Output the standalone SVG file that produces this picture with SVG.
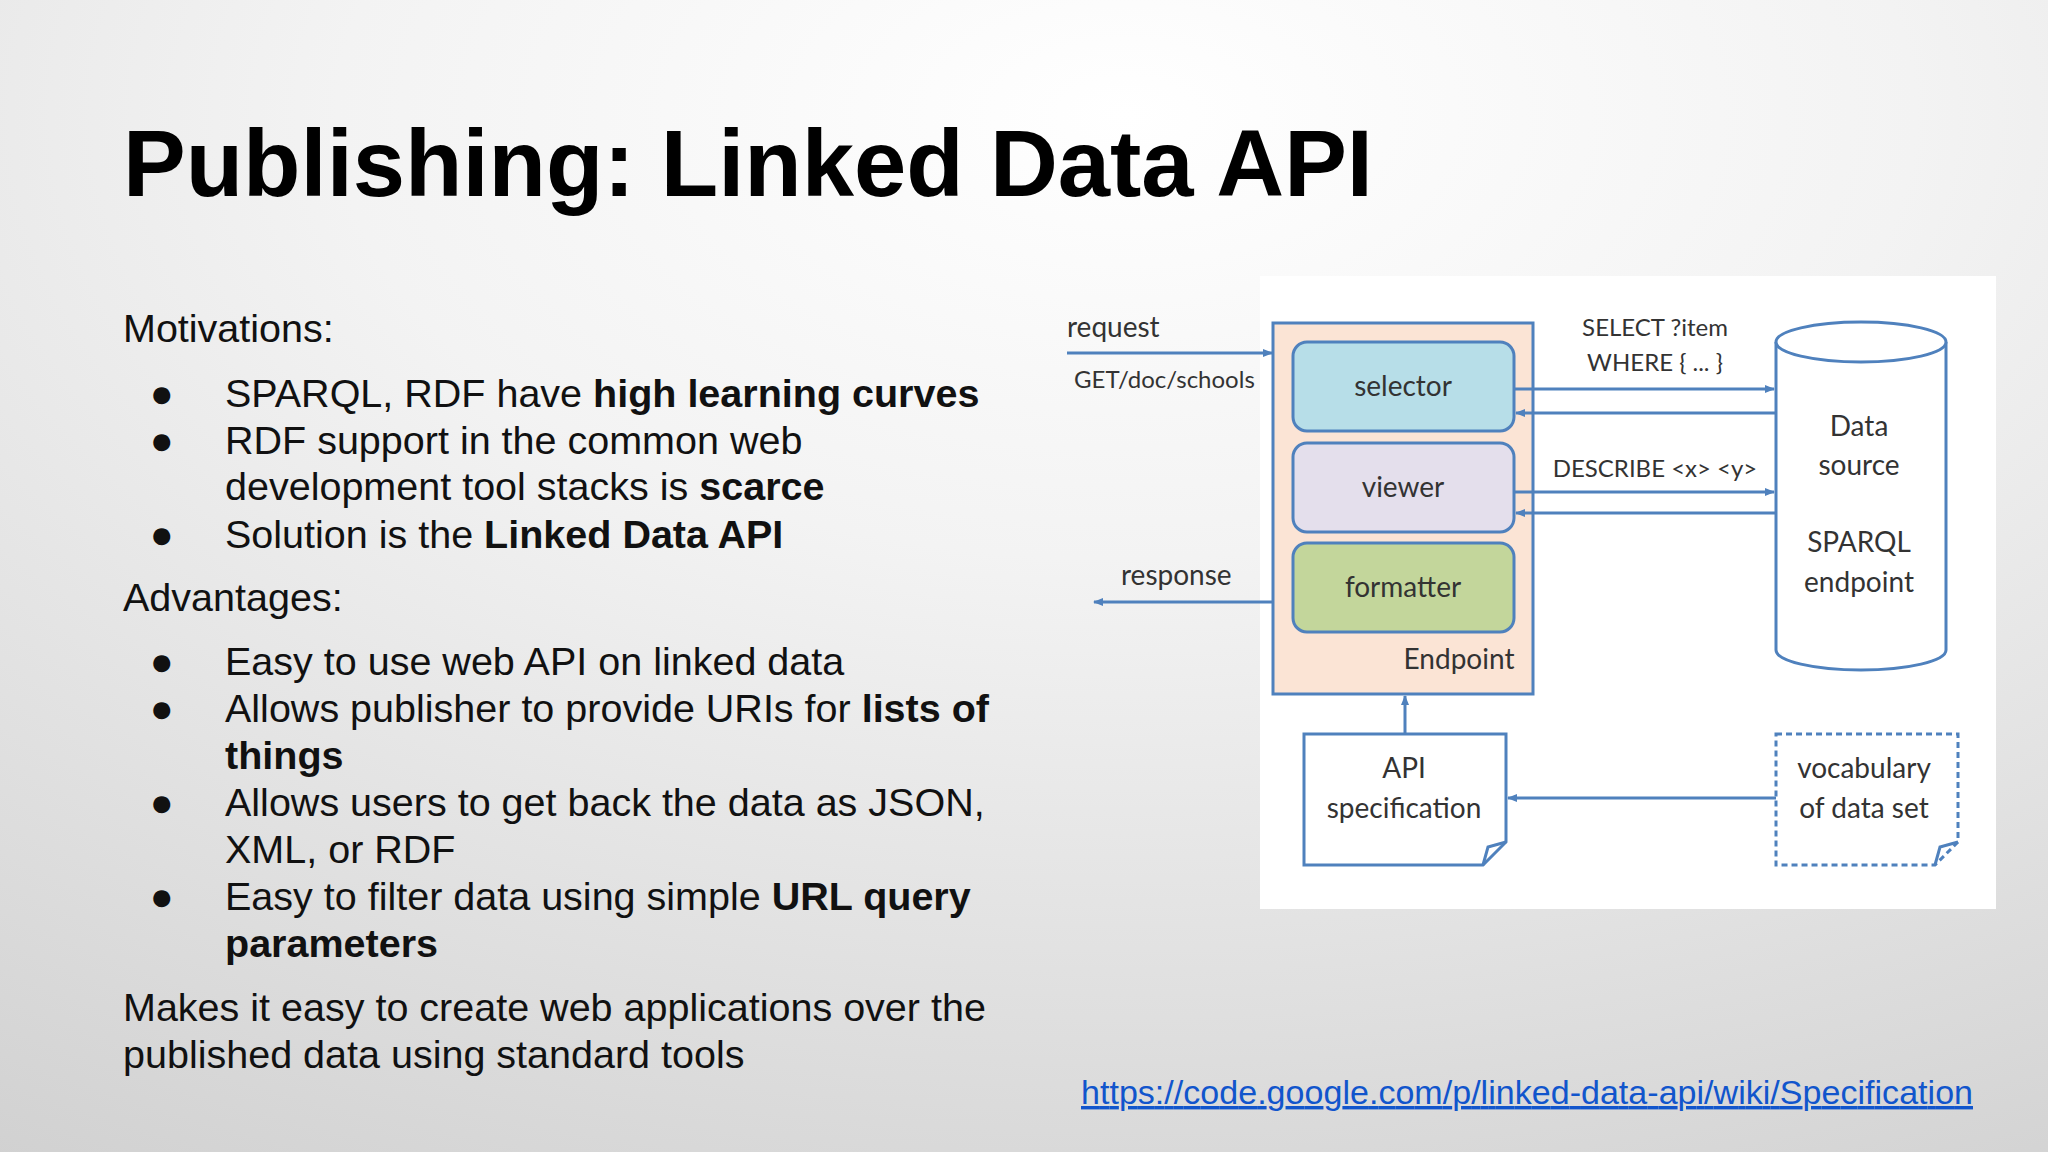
<svg xmlns="http://www.w3.org/2000/svg" width="2048" height="1152" viewBox="0 0 2048 1152">
<defs>
<radialGradient id="bg" cx="0.55" cy="0.1" r="1.1">
<stop offset="0" stop-color="#ffffff"/>
<stop offset="0.35" stop-color="#f3f3f3"/>
<stop offset="1" stop-color="#cfcfcf"/>
</radialGradient>
<marker id="ah" markerWidth="10" markerHeight="10" refX="9" refY="5" orient="auto" markerUnits="userSpaceOnUse">
<path d="M0,1 L10,5 L0,9 Z" fill="#4f81bd"/>
</marker>
<style>
.body{font-family:"Liberation Sans",Arial,sans-serif;font-size:39.5px;fill:#111}
.b{font-weight:bold}
.d{font-family:Lato,"Open Sans",sans-serif;font-size:28px;fill:#333}
.ds{font-family:Lato,"Open Sans",sans-serif;font-size:24px;fill:#333}
.ln{stroke:#4f81bd;stroke-width:3;fill:none;marker-end:url(#ah)}
.box{stroke:#4f81bd;stroke-width:3}
</style>
</defs>
<rect width="2048" height="1152" fill="url(#bg)"/>
<text x="123" y="196" font-family="'Liberation Sans',Arial,sans-serif" font-size="94" font-weight="bold" fill="#000">Publishing: Linked Data API</text>
<g class="body">
<text x="123" y="342">Motivations:</text>
<text x="150" y="407">●</text><text x="225" y="407">SPARQL, RDF have <tspan class="b">high learning curves</tspan></text>
<text x="150" y="454">●</text><text x="225" y="454">RDF support in the common web</text>
<text x="225" y="500">development tool stacks is <tspan class="b">scarce</tspan></text>
<text x="150" y="548">●</text><text x="225" y="548">Solution is the <tspan class="b">Linked Data API</tspan></text>
<text x="123" y="611">Advantages:</text>
<text x="150" y="675">●</text><text x="225" y="675">Easy to use web API on linked data</text>
<text x="150" y="722">●</text><text x="225" y="722">Allows publisher to provide URIs for <tspan class="b">lists of</tspan></text>
<text x="225" y="769" class="b">things</text>
<text x="150" y="816">●</text><text x="225" y="816">Allows users to get back the data as JSON,</text>
<text x="225" y="863">XML, or RDF</text>
<text x="150" y="910">●</text><text x="225" y="910">Easy to filter data using simple <tspan class="b">URL query</tspan></text>
<text x="225" y="957" class="b">parameters</text>
<text x="123" y="1021">Makes it easy to create web applications over the</text>
<text x="123" y="1068">published data using standard tools</text>
</g>
<text x="1081" y="1104" font-family="'Liberation Sans',Arial,sans-serif" font-size="34" fill="#1155cc" text-decoration="underline" textLength="892">https://code.google.com/p/linked-data-api/wiki/Specification</text>

<rect x="1260" y="276" width="736" height="633" fill="#ffffff"/>
<g id="endpoint">
<rect x="1273" y="323" width="260" height="371" fill="#fbe4d5" class="box"/>
<text x="1459" y="669" class="d" text-anchor="middle">Endpoint</text>
</g>
<g id="selector">
<rect x="1293" y="342" width="221" height="89" rx="14" fill="#b7dee8" class="box"/>
<text x="1403" y="396" class="d" text-anchor="middle">selector</text>
</g>
<g id="viewer">
<rect x="1293" y="443" width="221" height="89" rx="14" fill="#e4dfec" class="box"/>
<text x="1403" y="497" class="d" text-anchor="middle">viewer</text>
</g>
<g id="formatter">
<rect x="1293" y="543" width="221" height="89" rx="14" fill="#c3d69b" class="box"/>
<text x="1403" y="597" class="d" text-anchor="middle">formatter</text>
</g>
<g id="datasource">
<path d="M1776,342 L1776,650 A85,20 0 0 0 1946,650 L1946,342" fill="#fff" class="box"/>
<ellipse cx="1861" cy="342" rx="85" ry="20" fill="#fff" class="box"/>
<text x="1859" y="436" class="d" text-anchor="middle">Data</text>
<text x="1859" y="475" class="d" text-anchor="middle">source</text>
<text x="1859" y="552" class="d" text-anchor="middle">SPARQL</text>
<text x="1859" y="592" class="d" text-anchor="middle">endpoint</text>
</g>
<g id="apispec">
<path d="M1304,734 L1506,734 L1506,842 L1483,865 L1304,865 Z" fill="#fff" class="box"/>
<path d="M1483,865 L1488,847 L1506,842" fill="none" class="box" stroke-width="2"/>
<text x="1404" y="778" class="d" text-anchor="middle">API</text>
<text x="1404" y="818" class="d" text-anchor="middle">specification</text>
</g>
<g id="vocabulary">
<path d="M1776,734 L1958,734 L1958,842 L1935,865 L1776,865 Z" fill="#fff" class="box" stroke-dasharray="6,4"/>
<path d="M1935,865 L1940,847 L1958,842" fill="none" class="box" stroke-width="2"/>
<text x="1864" y="778" class="d" text-anchor="middle">vocabulary</text>
<text x="1864" y="818" class="d" text-anchor="middle">of data set</text>
</g>
<g id="connectors">
<line x1="1067" y1="353" x2="1272" y2="353" class="ln"/>
<line x1="1273" y1="602" x2="1094" y2="602" class="ln"/>
<line x1="1515" y1="389" x2="1774" y2="389" class="ln"/>
<line x1="1776" y1="413" x2="1516" y2="413" class="ln"/>
<line x1="1515" y1="492" x2="1774" y2="492" class="ln"/>
<line x1="1776" y1="513" x2="1516" y2="513" class="ln"/>
<line x1="1405" y1="734" x2="1405" y2="696" class="ln"/>
<line x1="1776" y1="798" x2="1508" y2="798" class="ln"/>
<text x="1067" y="337" class="d">request</text>
<text x="1074" y="388" class="ds">GET/doc/schools</text>
<text x="1121" y="585" class="d">response</text>
<text x="1655" y="336" class="ds" text-anchor="middle">SELECT ?item</text>
<text x="1655" y="371" class="ds" text-anchor="middle">WHERE { ... }</text>
<text x="1655" y="477" class="ds" text-anchor="middle">DESCRIBE &lt;x&gt; &lt;y&gt;</text>
</g>
</svg>
